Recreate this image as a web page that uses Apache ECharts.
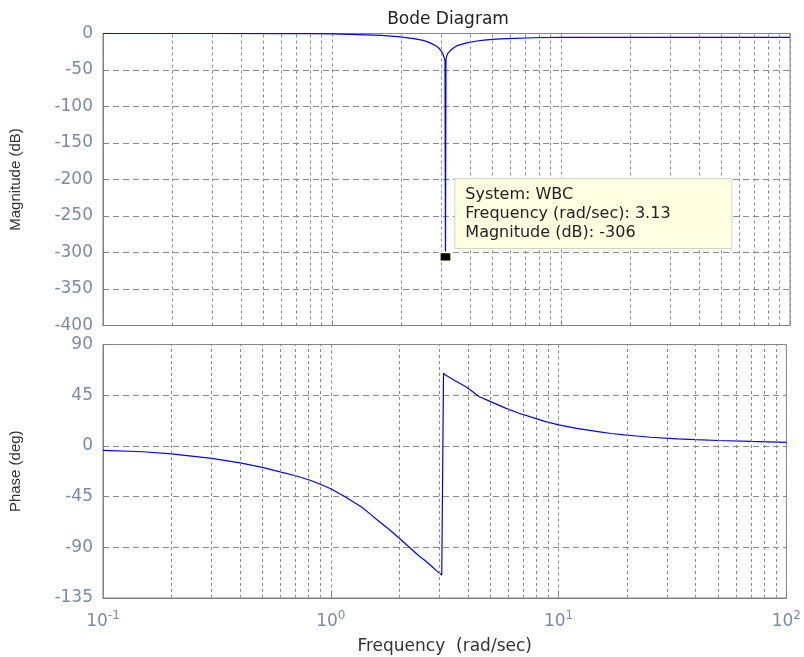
<!DOCTYPE html>
<html>
<head>
<meta charset="utf-8">
<script src="https://cdn.jsdelivr.net/npm/echarts@6/dist/echarts.min.js"></script>
<style>html,body{margin:0;padding:0;background:#fff;}#c{width:804px;height:657px;}</style>
</head>
<body>
<div id="c"></div>
<script>
// ---- data ----
const magFreq = [0.1, 0.3, 0.6, 0.8, 1.0, 1.3, 1.64, 1.94, 2.1, 2.28, 2.5, 2.62, 2.71, 2.85, 2.94, 3.0, 3.05, 3.08, 3.1, 3.115, 3.13, 3.145, 3.16, 3.2, 3.25, 3.31, 3.4, 3.5, 3.7, 3.92, 4.3, 4.6, 5.2, 5.85, 7.6, 10, 20, 50, 100];
const magDb   = [0, 0, -0.1, -0.3, -0.6, -1.5, -2.7, -4.4, -5.6, -7, -9.5, -11.5, -13.5, -17, -20.5, -24, -28, -32, -35, -38, -306, -36, -32, -27.5, -25, -22.5, -19.5, -17, -14.5, -12.6, -10.3, -9, -7.8, -7, -5.8, -5.3, -5.2, -5.2, -5.2];
const phFreq  = [0.1, 0.15, 0.2, 0.3, 0.4, 0.5, 0.6, 0.7, 0.8, 0.9, 1.0, 1.15, 1.37, 1.5, 1.64, 1.8, 2.0, 2.2, 2.45, 2.6, 2.78, 2.9, 3.07, 3.125, 3.125, 3.19, 3.5, 3.9, 4.2, 4.47, 5.0, 5.85, 6.7, 7.6, 8.7, 10, 12, 14.9, 17, 19.4, 22, 25.3, 33.2, 40, 50, 70, 100];
const phDeg   = [-3.9, -5.2, -7, -11, -15, -19, -23, -26.5, -30, -34, -38, -45, -54.5, -61, -67.5, -74, -82, -89.5, -98, -102, -107, -110.5, -114.6, -116, 64.5, 63, 58, 52.7, 48, 43.8, 39.5, 33.5, 29, 25.5, 21.8, 18.7, 15.5, 12.7, 11, 9.8, 8.8, 7.7, 6.2, 5.5, 4.8, 4, 3.2];
const minorFreqs = [0.2,0.3,0.4,0.5,0.6,0.7,0.8,0.9, 2,3,4,5,6,7,8,9, 20,30,40,50,60,70,80,90];
const tipSystem = 'WBC';
const tipFreq = 3.13;
const tipMag = -306;
const titleText = 'Bode Diagram';
const magName = 'Magnitude (dB)';
const phName = 'Phase (deg)';
const freqName = 'Frequency  (rad/sec)';

const FONT = 'DejaVu Sans';
const labelColor = '#7e89a2';
const gridColor = '#8a8a8a';

const magData = magFreq.map((f, i) => [f, magDb[i]]);
const phData = phFreq.map((f, i) => [f, phDeg[i]]);

function minorLines() {
  return {
    silent: true, symbol: ['none', 'none'], animation: false,
    label: { show: false },
    lineStyle: { color: gridColor, type: [3, 3], width: 1 },
    emphasis: { disabled: true },
    data: minorFreqs.map(v => ({ xAxis: v }))
  };
}

const xBase = {
  type: 'log', logBase: 10, min: 0.1, max: 100,
  axisLine: { show: true, onZero: false, lineStyle: { color: '#808080' } },
  axisTick: { show: true, inside: true, length: 5, lineStyle: { color: '#808080' } },
  splitLine: { show: true, lineStyle: { color: gridColor, type: [3, 3] } },
  minorTick: { show: false }, minorSplitLine: { show: false }
};
const yBase = {
  type: 'value',
  axisLine: { show: true, onZero: false, lineStyle: { color: '#808080' } },
  axisTick: { show: true, inside: true, length: 5, lineStyle: { color: '#808080' } },
  splitLine: { show: true, lineStyle: { color: gridColor, type: [6, 4] } },
  axisLabel: { color: labelColor, fontFamily: FONT, fontSize: 17, margin: 10 },
  nameLocation: 'middle', nameRotate: 90,
  nameTextStyle: { color: '#333', fontFamily: 'Liberation Sans', fontSize: 15 }
};

const chart = echarts.init(document.getElementById('c'), null, { renderer: 'canvas' });
chart.setOption({
  animation: false,
  backgroundColor: '#ffffff',
  title: {
    text: titleText, left: 443, top: 6, textAlign: 'center',
    textStyle: { color: '#222', fontFamily: FONT, fontSize: 17, fontWeight: 'normal' }
  },
  grid: [
    { left: 101, right: 14, top: 33.5, height: 292, show: true, borderColor: '#808080', borderWidth: 1 },
    { left: 101, right: 14, top: 344.5, height: 253.5, show: true, borderColor: '#808080', borderWidth: 1 }
  ],
  xAxis: [
    Object.assign({}, xBase, { gridIndex: 0, axisLabel: { show: false } }),
    Object.assign({}, xBase, {
      gridIndex: 1,
      name: freqName, nameLocation: 'middle', nameGap: 40,
      nameTextStyle: { color: '#333', fontFamily: FONT, fontSize: 17 },
      axisLabel: {
        margin: 12,
        formatter: v => '{b|10}{s|' + Math.round(Math.log10(v)) + '}',
        rich: {
          b: { color: labelColor, fontFamily: FONT, fontSize: 17 },
          s: { color: labelColor, fontFamily: FONT, fontSize: 12, padding: [0, 0, 11, 0] }
        }
      }
    })
  ],
  yAxis: [
    Object.assign({}, yBase, { gridIndex: 0, min: -400, max: 0, interval: 50, name: magName, nameGap: 80 }),
    Object.assign({}, yBase, { gridIndex: 1, min: -135, max: 90, interval: 45, name: phName, nameGap: 80 })
  ],
  series: [
    {
      type: 'line', xAxisIndex: 0, yAxisIndex: 0, data: magData,
      showSymbol: false, symbol: 'none', smooth: false,
      lineStyle: { color: '#0000ff', width: 1.2 },
      markLine: minorLines(),
      markPoint: {
        silent: true,
        data: [{ coord: [tipFreq, tipMag] }],
        symbol: 'rect', symbolSize: [12, 9],
        itemStyle: { color: '#000000', borderColor: '#ffffe1', borderWidth: 2 },
        label: {
          show: true,
          position: [17, -72.5],
          align: 'left', verticalAlign: 'top',
          formatter: 'System: ' + tipSystem + '\nFrequency (rad/sec): ' + tipFreq + '\nMagnitude (dB): ' + tipMag,
          color: '#222', fontFamily: FONT, fontSize: 16, lineHeight: 19,
          backgroundColor: '#ffffe1', borderColor: '#d4d4c4', borderWidth: 1,
          padding: [6, 10, 6, 10], width: 256
        }
      }
    },
    {
      type: 'line', xAxisIndex: 1, yAxisIndex: 1, data: phData,
      showSymbol: false, symbol: 'none', smooth: false,
      lineStyle: { color: '#0000ff', width: 1.2 },
      markLine: minorLines()
    }
  ]
});
</script>
</body>
</html>
